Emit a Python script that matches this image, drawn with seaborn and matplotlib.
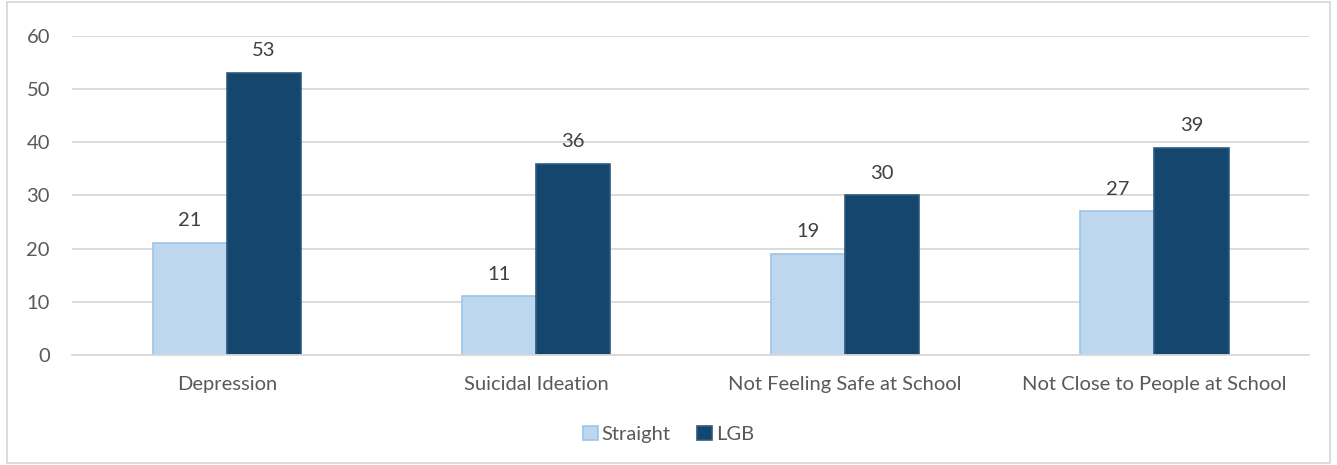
import matplotlib
matplotlib.use("Agg")
import matplotlib.pyplot as plt
import seaborn as sns
import pandas as pd
from matplotlib.patches import Rectangle

categories = ["Depression", "Suicidal Ideation", "Not Feeling Safe at School", "Not Close to People at School"]
straight = [21, 11, 19, 27]
lgb = [53, 36, 30, 39]
groups = ["Straight", "LGB"]
yticks = [0, 10, 20, 30, 40, 50, 60]

df = pd.DataFrame({
    "category": categories * 2,
    "group": [groups[0]] * len(categories) + [groups[1]] * len(categories),
    "value": straight + lgb,
})

sns.set_theme(style="white")
plt.rcParams["font.family"] = ["Lato", "DejaVu Sans"]
text_color = "#595959"
fs = 14.5

fig = plt.figure(figsize=(13.37, 4.65), dpi=100)
ax = fig.add_axes([0.054, 0.2366, 0.925, 0.686])

fills = {"Straight": "#BDD7EE", "LGB": "#15466E"}
edges = {"Straight": "#9DC3E6", "LGB": "#2E5A80"}

sns.barplot(data=df, x="category", y="value", hue="group", order=categories,
            hue_order=groups, palette=fills, width=0.48, gap=0,
            ax=ax, legend=False, saturation=1)

for container, g in zip(ax.containers, groups):
    for bar in container:
        bar.set_edgecolor(edges[g])
        bar.set_linewidth(1.2)
    ax.bar_label(container, fmt="%d", padding=10, fontsize=fs, color="#404040")

ax.set_ylim(0, 60)
ax.set_yticks(yticks)
ax.set_xlim(-0.5, len(categories) - 0.5)
ax.yaxis.grid(True, color="#D9D9D9", linewidth=1.3)
ax.set_axisbelow(True)
for side in ["top", "right", "left"]:
    ax.spines[side].set_visible(False)
ax.spines["bottom"].set_color("#D9D9D9")
ax.spines["bottom"].set_linewidth(1.3)
ax.tick_params(axis="both", length=0, labelsize=fs, colors=text_color)
ax.tick_params(axis="x", pad=15)
ax.tick_params(axis="y", pad=16)
ax.set_xlabel("")
ax.set_ylabel("")

handles = [Rectangle((0, 0), 1, 1, facecolor=fills[g], edgecolor=edges[g], linewidth=1.2) for g in groups]
fig.legend(handles, groups, loc="center", bbox_to_anchor=(0.5, 0.066), ncol=2,
           frameon=False, fontsize=fs, labelcolor=text_color,
           handlelength=0.75, handleheight=0.75, handletextpad=0.2, columnspacing=1.3)

fig.patches.append(Rectangle((0.005, 0.005), 0.99, 0.99, transform=fig.transFigure,
                             fill=False, edgecolor="#D9D9D9", linewidth=1.3))

fig.savefig("out.png", dpi=100, facecolor="white")
